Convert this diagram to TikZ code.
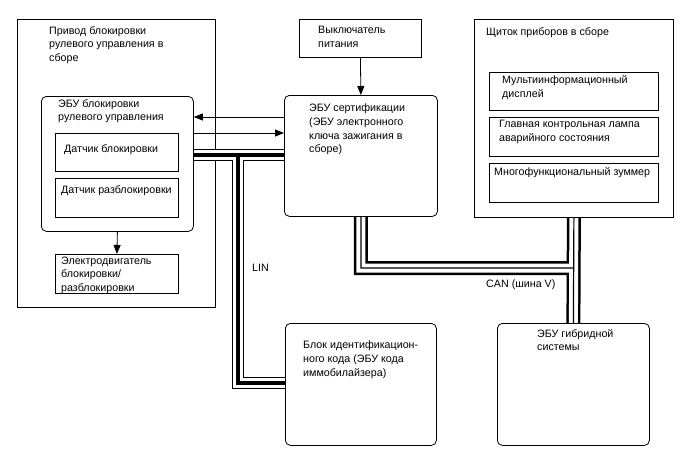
\documentclass[tikz,border=0pt]{standalone}
\usepackage{fontspec}
\setmainfont{Liberation Sans}
\usetikzlibrary{arrows.meta}
\begin{document}
\begin{tikzpicture}[x=1pt,y=-1pt,
  box/.style={draw, line width=0.8pt, anchor=north west, inner sep=0pt},
  rbox/.style={box, rounded corners=5pt},
  lbl/.style={anchor=north west, inner sep=0pt, align=left, font=\fontsize{10.7}{13.6}\selectfont},
  arr/.style={line width=0.8pt, -{Triangle[length=9pt,width=7pt]}},
  linA/.style={line width=12pt},
  linB/.style={line width=10pt, white},
  linC/.style={line width=4pt},
  canA/.style={line width=14pt},
  canB/.style={line width=9pt, white},
  canC/.style={line width=1.2pt}
]
\useasboundingbox (0,0) rectangle (688,463);

% outer assembly (drawn first, crossed by bus)
\node[box, minimum width=198pt, minimum height=288pt] (asm) at (17,19) {};
\node[lbl] (asmT) at (49,26) {Привод блокировки\\рулевого управления в\\сборе};

% box nodes (geometry only, drawn later)
\path
  node[rbox, draw=none, minimum width=152pt, minimum height=135pt] (ecuS) at (41,96) {}
  node[rbox, draw=none, minimum width=153pt, minimum height=121pt] (cert) at (284,95) {}
  node[rbox, draw=none, minimum width=151pt, minimum height=122pt] (imm) at (285,323) {}
  node[box, draw=none, minimum width=199pt, minimum height=198pt] (clu) at (474,19) {}
  node[rbox, draw=none, minimum width=152pt, minimum height=122pt] (hyb) at (497,323) {};

% bus coordinates
\coordinate (linT) at (238,155);
\coordinate (linBot) at (238,383);
\coordinate (canY) at (0,268);
\coordinate (canL) at (cert.south |- canY);
\coordinate (canR) at (clu.south |- canY);

\def\linpath{(ecuS.east |- linT) -- (cert.west |- linT) (linT) -- (linBot) -- (imm.west |- linBot)}
\def\canpath{(cert.south) -- (canL) -- (canR) (clu.south) -- (hyb.north)}

\draw[linA] \linpath;
\draw[canA] \canpath;
\draw[linB] \linpath;
\draw[canB] \canpath;
\draw[linC] \linpath;
\draw[canC] \canpath;

% steering lock ECU
\node[rbox, minimum width=152pt, minimum height=135pt] (ecuS2) at (41,96) {};
\node[lbl] (ecuST) at (58,99) {ЭБУ блокировки\\рулевого управления};
\node[box, minimum width=123pt, minimum height=38pt] (dlock) at (55,133) {};
\node[lbl] (dlockT) at (64,144) {Датчик блокировки};
\node[box, minimum width=123pt, minimum height=39pt] (dun) at (55,178) {};
\node[lbl] (dunT) at (61,185) {Датчик разблокировки};
\node[box, minimum width=123pt, minimum height=39pt] (motor) at (55,254) {};
\node[lbl] (motorT) at (61,256.5) {Электродвигатель\\блокировки/\\разблокировки};

% power switch
\node[box, minimum width=122pt, minimum height=38pt] (sw) at (299,19) {};
\node[lbl] (swT) at (318,26) {Выключатель\\питания};

% certification ECU
\node[rbox, minimum width=153pt, minimum height=121pt] (cert2) at (284,95) {};
\node[lbl] (certT) at (309,104) {ЭБУ сертификации\\(ЭБУ электронного\\ключа зажигания в\\сборе)};

% cluster
\node[box, minimum width=199pt, minimum height=198pt] (clu2) at (474,19) {};
\node[lbl] (cluT) at (486,27) {Щиток приборов в сборе};
\node[box, minimum width=169pt, minimum height=38pt] (mi) at (489,72) {};
\node[lbl] (miT) at (502,75.5) {Мультиинформационный\\дисплей};
\node[box, minimum width=169pt, minimum height=39pt] (lamp) at (489,117) {};
\node[lbl] (lampT) at (499,120) {Главная контрольная лампа\\аварийного состояния};
\node[box, minimum width=169pt, minimum height=39pt] (buzz) at (489,163) {};
\node[lbl] (buzzT) at (494,167) {Многофункциональный зуммер};

% immobiliser
\node[rbox, minimum width=151pt, minimum height=122pt] (imm2) at (285,323) {};
\node[lbl] (immT) at (303,341) {Блок идентификацион-\\ного кода (ЭБУ кода\\иммобилайзера)};

% hybrid
\node[rbox, minimum width=152pt, minimum height=122pt] (hyb2) at (497,323) {};
\node[lbl] (hybT) at (537,329) {ЭБУ гибридной\\системы};

% bus labels
\node[lbl] (linL) at (252,264) {LIN};
\node[lbl] (canLb) at (486,280) {CAN (шина V)};

% arrows
\coordinate (yA) at (0,117);
\coordinate (yB) at (0,133);
\draw[arr] (cert.west |- yA) -- (ecuS.east |- yA);
\draw[arr] (ecuS.east |- yB) -- (cert.west |- yB);
\draw[arr] (sw.south) -- (cert.north);
\draw[arr] (ecuS.south) -- (motor.north);
\end{tikzpicture}
\end{document}
